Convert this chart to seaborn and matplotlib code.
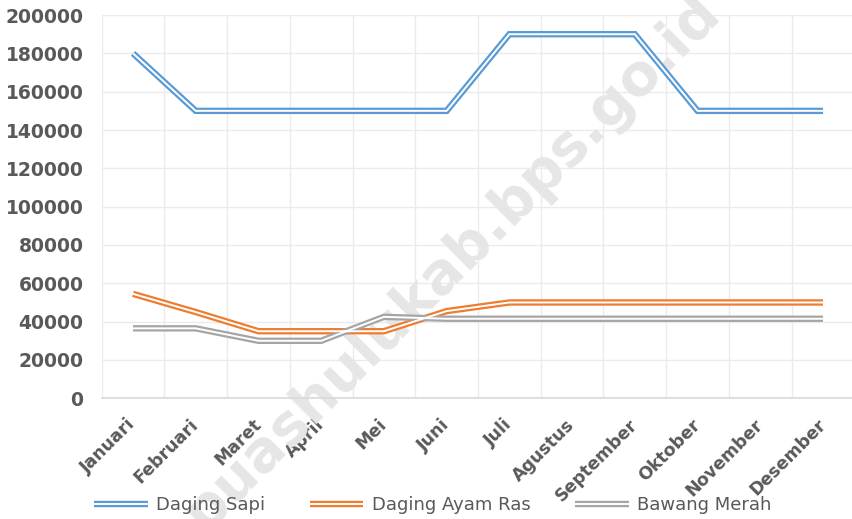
import pandas as pd
import matplotlib
matplotlib.use('Agg')
import matplotlib.pyplot as plt
import seaborn as sns
from matplotlib.lines import Line2D

# Harga bulanan (Rp)
bulan = ['Januari', 'Februari', 'Maret', 'April', 'Mei', 'Juni', 'Juli',
         'Agustus', 'September', 'Oktober', 'November', 'Desember']
daging_sapi = [180000, 150000, 150000, 150000, 150000, 150000, 190000,
               190000, 190000, 150000, 150000, 150000]
daging_ayam_ras = [54500, 45000, 35000, 35000, 35000, 45500, 50000,
                   50000, 50000, 50000, 50000, 50000]
bawang_merah = [36500, 36500, 30000, 30000, 42500, 41500, 41500,
                41500, 41500, 41500, 41500, 41500]
series_names = ['Daging Sapi', 'Daging Ayam Ras', 'Bawang Merah']
colors = ['#5B9BD5', '#ED7D31', '#A5A5A5']

df = pd.DataFrame({
    'Bulan': bulan * 3,
    'Harga': daging_sapi + daging_ayam_ras + bawang_merah,
    'Komoditas': [n for n in series_names for _ in bulan],
})

sns.set_theme(style='white')
plt.rcParams['font.family'] = ['DejaVu Sans']
plt.rcParams['lines.solid_joinstyle'] = 'miter'
plt.rcParams['lines.solid_capstyle'] = 'butt'

fig = plt.figure(figsize=(8.52, 5.19), dpi=100)
ax = fig.add_axes([0.1193, 0.2326, 0.8835, 0.7384])

# double line look: thick coloured stroke with a thin white core
sns.lineplot(data=df, x='Bulan', y='Harga', hue='Komoditas',
             palette=colors, linewidth=4.6, legend=False, ax=ax, zorder=3)
sns.lineplot(data=df, x='Bulan', y='Harga', units='Komoditas',
             estimator=None, color='white', linewidth=1.4,
             legend=False, ax=ax, zorder=4)

ax.set_ylim(0, 200000)
ax.set_yticks(range(0, 200001, 20000))
ax.set_xlim(-0.5, 11.5)
ax.set_xticks(range(len(bulan)))
ax.set_xticks([i + 0.5 for i in range(-1, len(bulan))], minor=True)
ax.set_xticklabels(bulan, rotation=45, ha='right', va='center',
                   rotation_mode='anchor', fontsize=12.5, fontweight='bold',
                   color='#595959')
for lab in ax.get_yticklabels():
    lab.set_fontsize(13.5)
    lab.set_fontweight('bold')
    lab.set_color('#595959')

ax.tick_params(axis='x', which='both', length=0, pad=17)
ax.tick_params(axis='y', length=0, pad=13)
ax.grid(axis='y', which='major', color='#EBEBEB', linewidth=1)
ax.grid(axis='x', which='minor', color='#EBEBEB', linewidth=1)
ax.grid(axis='x', which='major', visible=False)
ax.set_xlabel('')
ax.set_ylabel('')
for side in ['top', 'right', 'left']:
    ax.spines[side].set_visible(False)
ax.spines['bottom'].set_color('#D9D9D9')
ax.spines['bottom'].set_linewidth(1.2)

# watermark
ax.text(452 / 852, 1 - 262 / 519, 'puashulukab.bps.go.id',
        transform=fig.transFigure, rotation=45, rotation_mode='anchor',
        ha='center', va='center', fontsize=41, fontweight='bold',
        color='#E6E6E6', zorder=2, clip_on=False)

handles = [(Line2D([], [], color=c, linewidth=4.6),
            Line2D([], [], color='white', linewidth=1.4)) for c in colors]
fig.legend(handles, series_names, loc='lower center', ncol=3,
           bbox_to_anchor=(0.508, -0.022), frameon=False, fontsize=13,
           labelcolor='#595959', handlelength=2.95, columnspacing=2.5,
           handletextpad=0.45)

fig.savefig('out.png', dpi=100)
